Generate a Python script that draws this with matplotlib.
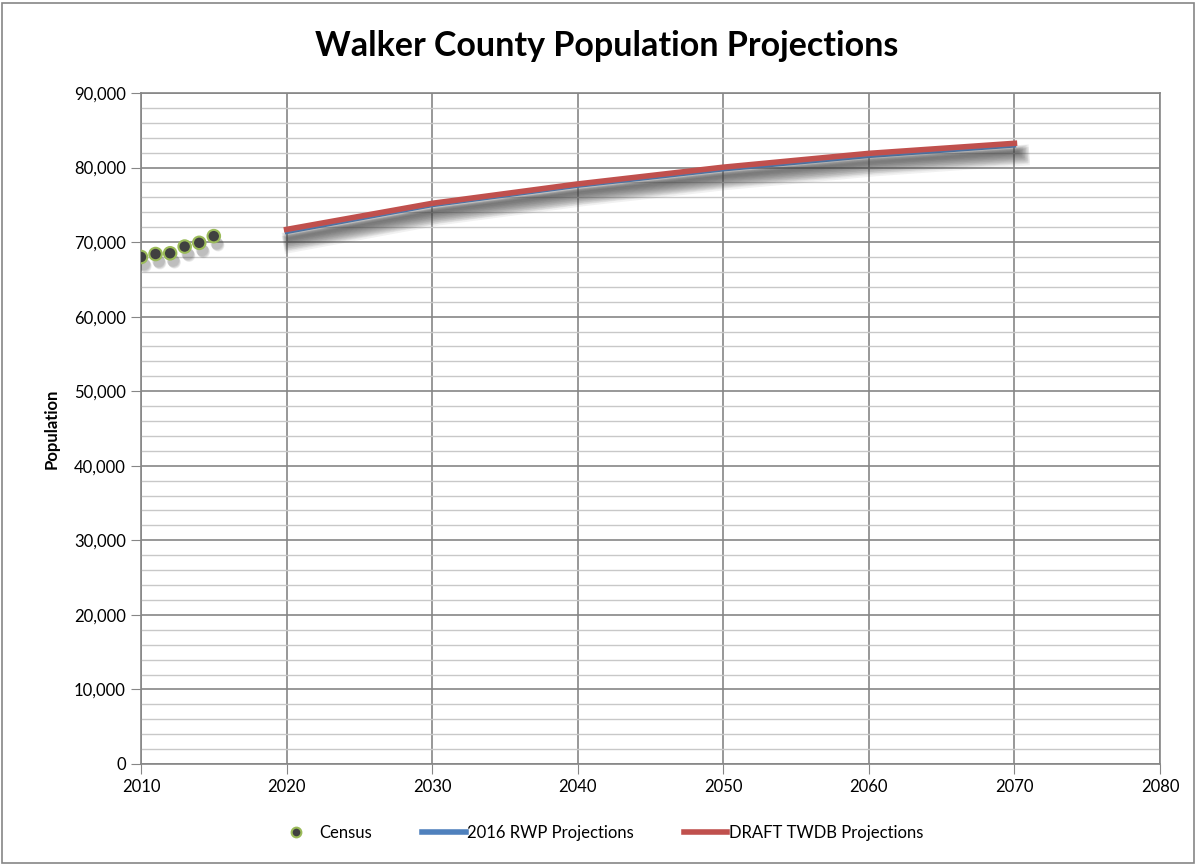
import numpy as np
import matplotlib.pyplot as plt
import matplotlib.patheffects as pe
from matplotlib.ticker import FuncFormatter, MultipleLocator

# data
census_years = [2010, 2011, 2012, 2013, 2014, 2015]
census_pop = [68000, 68400, 68500, 69400, 69900, 70800]

proj_years = [2020, 2030, 2040, 2050, 2060, 2070]
rwp_pop = [71300, 74900, 77500, 79700, 81500, 82900]
twdb_pop = [71700, 75200, 77800, 80050, 81900, 83250]

plt.rcParams['font.family'] = ['Lato', 'DejaVu Sans']

fig = plt.figure(figsize=(11.98, 8.65), dpi=100)
ax = fig.add_axes([0.1177, 0.1168, 0.8506, 0.7757])

# soft, blurred-looking shadow under the lines
def line_shadow(n=8):
    effs = []
    for i in range(n):
        effs.append(pe.SimpleLineShadow(offset=(2 + i * 0.3, -5 - i * 0.4),
                                        shadow_color='#404040', alpha=0.07,
                                        linewidth=2 + i * 1.6))
    effs.append(pe.Normal())
    return effs

def marker_shadow(n=5):
    effs = []
    for i in range(n):
        effs.append(pe.SimplePatchShadow(offset=(2 + i * 0.3, -5 - i * 0.4),
                                         shadow_rgbFace='#404040', alpha=0.08))
    effs.append(pe.Normal())
    return effs

ax.plot(proj_years, rwp_pop, color='#4f81bd', lw=2.5, label='2016 RWP Projections',
        path_effects=line_shadow(), zorder=3)
ax.plot(proj_years, twdb_pop, color='#c0504d', lw=4, label='DRAFT TWDB Projections',
        path_effects=line_shadow(), zorder=4)
ax.plot(census_years, census_pop, ls='none', marker='o', ms=9, mfc='#404040',
        mec='#9bbb59', mew=1.5, label='Census', zorder=5,
        path_effects=marker_shadow())

ax.set_xlim(2010, 2080)
ax.set_ylim(0, 90000)
ax.xaxis.set_major_locator(MultipleLocator(10))
ax.yaxis.set_major_locator(MultipleLocator(10000))
ax.yaxis.set_minor_locator(MultipleLocator(2000))
ax.yaxis.set_major_formatter(FuncFormatter(lambda v, p: f'{int(v):,}'))

ax.grid(which='major', color='#868686', lw=1.2)
ax.grid(which='minor', axis='y', color='#c8c8c8', lw=1.0)
ax.set_axisbelow(True)
for s in ax.spines.values():
    s.set_color('#868686')
    s.set_linewidth(1.2)
ax.tick_params(axis='y', which='major', length=7, color='#868686', labelsize=12, pad=4)
ax.tick_params(axis='y', which='minor', length=0)
ax.tick_params(axis='x', length=7, color='#868686', labelsize=12, pad=4)

ax.set_ylabel('Population', fontsize=12, fontweight='bold', labelpad=10)
fig.suptitle('Walker County Population Projections', fontsize=24.5, fontweight='bold',
             x=0.506, y=0.965)

handles, labels = ax.get_legend_handles_labels()
order = [2, 0, 1]
leg = fig.legend([handles[i] for i in order], [labels[i] for i in order],
                 loc='center', bbox_to_anchor=(0.50, 0.037), ncol=3, frameon=False,
                 fontsize=12, handlelength=2.6, columnspacing=3.0, handletextpad=0.1)
for line in leg.get_lines():
    line.set_path_effects([])
    line.set_linewidth(4)
leg.get_lines()[0].set_markersize(7)

# outer chart border
fig.patches.append(plt.Rectangle((0.002, 0.002), 0.995, 0.995, transform=fig.transFigure,
                                 fill=False, edgecolor='#868686', lw=1.2))

fig.savefig('out.png', dpi=100)
